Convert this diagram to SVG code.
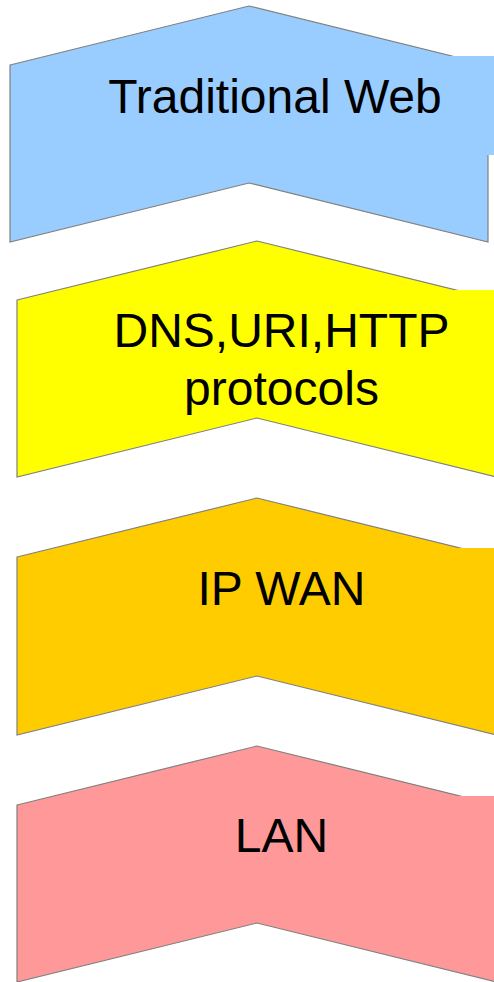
<svg xmlns="http://www.w3.org/2000/svg" width="494" height="982" viewBox="0 0 494 982">
<style>
.sh{stroke:#808080;stroke-width:1.2}
.t{font-family:"Liberation Sans",Arial,sans-serif;font-size:48px;fill:#000;text-anchor:middle}
</style>
<rect width="494" height="982" fill="#fff"/>
<g id="traditional-web">
<polygon class="sh" fill="#99ccff" points="10,65 249,6 488,65 488,242 249,183 10,242"/>
<rect x="450" y="56" width="50" height="99" fill="#99ccff"/>
<text class="t" x="275" y="113">Traditional Web</text>
</g>
<g id="protocols">
<polygon class="sh" fill="#ffff00" points="17,300 257,241 497,300 497,477 257,418 17,477"/>
<rect x="453" y="290" width="50" height="99" fill="#ffff00"/>
<text class="t" x="281.5" y="347">DNS,URI,HTTP</text>
<text class="t" x="281.5" y="405">protocols</text>
</g>
<g id="ip-wan">
<polygon class="sh" fill="#ffcc00" points="17,557 257,498 497,557 497,735 257,676 17,735"/>
<rect x="457" y="548" width="50" height="99" fill="#ffcc00"/>
<text class="t" x="281.5" y="605">IP WAN</text>
</g>
<g id="lan">
<polygon class="sh" fill="#ff9999" points="17,805 257,746 497,805 497,982 257,923 17,982"/>
<rect x="457" y="796" width="50" height="99" fill="#ff9999"/>
<text class="t" x="281.5" y="852">LAN</text>
</g>
<g id="connectors"></g>
</svg>
